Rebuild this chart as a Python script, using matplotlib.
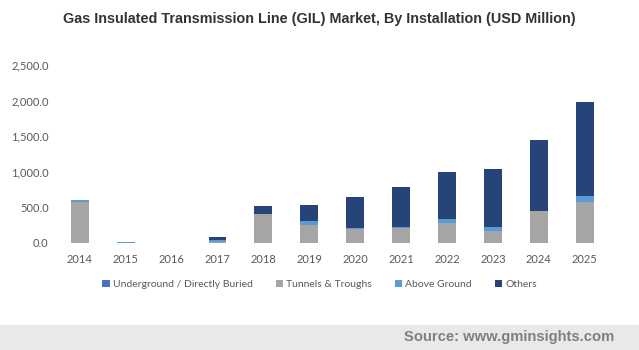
import matplotlib

matplotlib.use("Agg")
import matplotlib.pyplot as plt
import numpy as np

# values (USD Million)
years = ["2014", "2015", "2016", "2017", "2018", "2019",
         "2020", "2021", "2022", "2023", "2024", "2025"]
underground = [2, 0, 0, 0, 2, 2, 2, 2, 2, 2, 2, 2]
tunnels = [575, 0, 0, 5, 408, 249, 188, 207, 277, 165, 446, 573]
above_ground = [20, 12, 0, 28, 0, 61, 18, 14, 61, 47, 0, 84]
others = [0, 0, 0, 50, 108, 221, 436, 563, 657, 826, 999, 1323]

series = [
    ("Underground / Directly Buried", underground, "#4472C4"),
    ("Tunnels & Troughs", tunnels, "#A5A5A5"),
    ("Above Ground", above_ground, "#5B9BD5"),
    ("Others", others, "#264478"),
]

TEXT = "#595959"
plt.rcParams["font.family"] = ["Lato", "DejaVu Sans"]

fig = plt.figure(figsize=(6.39, 3.50), dpi=100)
ax = fig.add_axes([0.089, 0.3066, 0.862, 0.5074])

x = np.arange(len(years))
bottom = np.zeros(len(years))
for name, vals, color in series:
    vals = np.array(vals, dtype=float)
    ax.bar(x, vals, width=0.39, bottom=bottom, color=color, label=name)
    bottom += vals

ax.set_xlim(-0.5, len(years) - 0.5)
ax.set_ylim(0, 2500)
ax.set_yticks(np.arange(0, 2501, 500))
ax.set_yticklabels([f"{v:,.1f}" for v in np.arange(0, 2501, 500)])
ax.set_xticks(x)
ax.set_xticklabels(years)
ax.tick_params(length=0, colors=TEXT, labelsize=8)
ax.tick_params(axis="y", pad=6)
ax.tick_params(axis="x", pad=8)
for s in ax.spines.values():
    s.set_visible(False)

fig.text(0.5, 0.947, "Gas Insulated Transmission Line (GIL) Market, By Installation (USD Million)",
         ha="center", va="center", fontsize=10.4, fontweight="bold", color="#333333",
         family="Liberation Sans")

ax.legend(loc="center", bbox_to_anchor=(0.5, 0.187), bbox_transform=fig.transFigure,
          ncol=4, frameon=False, fontsize=7.5, labelcolor=TEXT, handlelength=0.7,
          handleheight=0.7, handletextpad=0.3, columnspacing=2.2)

# footer band with source
fig.patches.append(plt.Rectangle((0, 0), 1, 0.072, transform=fig.transFigure,
                                 color="#E9E9E9", zorder=0))
fig.text(0.962, 0.036, "Source: www.gminsights.com", ha="right", va="center",
         fontsize=10.6, fontweight="bold", color="#7F7F7F", family="Liberation Sans")

fig.savefig("out.png", dpi=100)
